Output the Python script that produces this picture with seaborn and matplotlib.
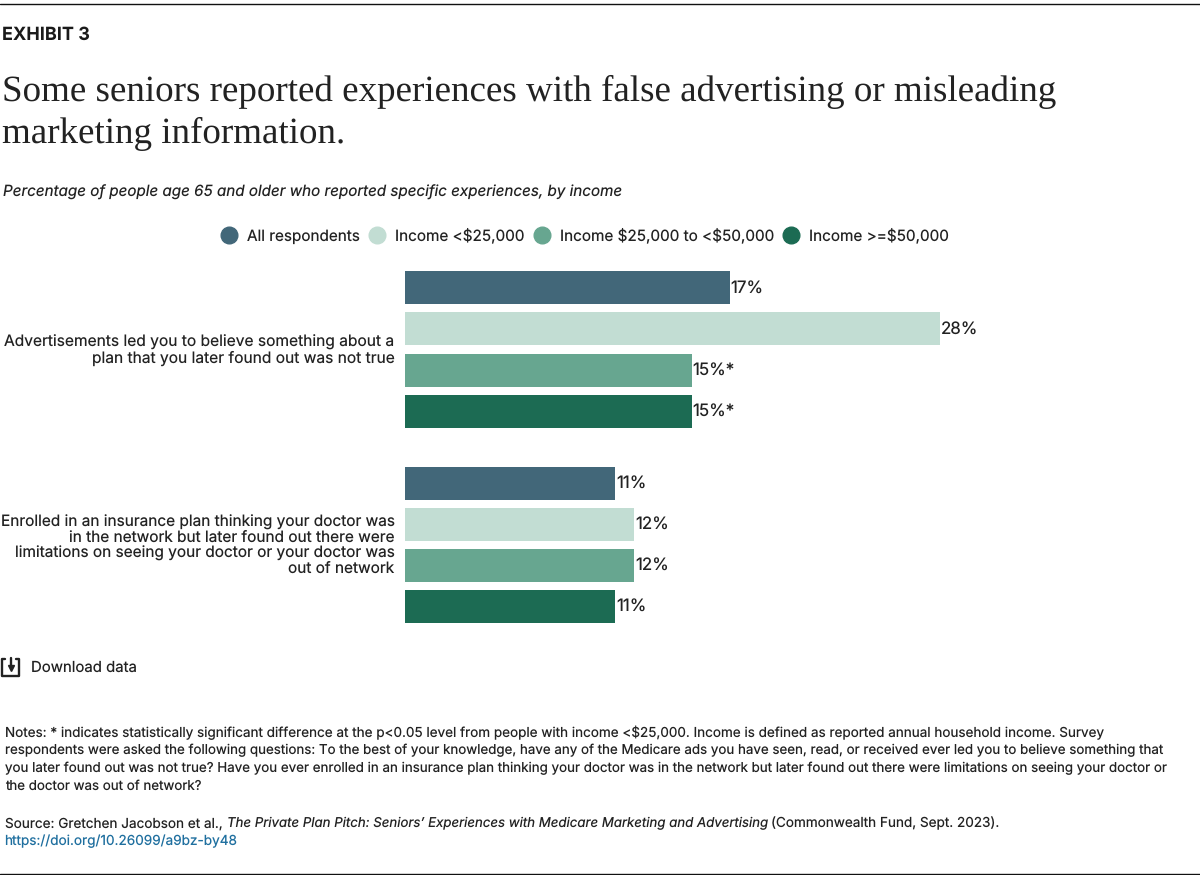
import matplotlib
matplotlib.use("Agg")
import matplotlib.pyplot as plt
from matplotlib.lines import Line2D
from matplotlib.transforms import ScaledTranslation
import pandas as pd
import seaborn as sns

W, H = 1200, 875

categories = [
    "Advertisements led you to believe something about a\nplan that you later found out was not true",
    "Enrolled in an insurance plan thinking your doctor was\nin the network but later found out there were\nlimitations on seeing your doctor or your doctor was\nout of network",
]
groups = ["All respondents", "Income <$25,000", "Income $25,000 to <$50,000", "Income >=$50,000"]
group_colors = ["#426779", "#c2ddd3", "#67a690", "#1c6b53"]
ad_values = [17, 28, 15, 15]
doctor_values = [11, 12, 12, 11]
ad_labels = ["17%", "28%", "15%*", "15%*"]
doctor_labels = ["11%", "12%", "12%", "11%"]

title_lines = [
    "Some seniors reported experiences with false advertising or misleading",
    "marketing information.",
]
subtitle = "Percentage of people age 65 and older who reported specific experiences, by income"
notes = [
    "Notes: * indicates statistically significant difference at the p<0.05 level from people with income <$25,000. Income is defined as reported annual household income. Survey",
    "respondents were asked the following questions: To the best of your knowledge, have any of the Medicare ads you have seen, read, or received ever led you to believe something that",
    "you later found out was not true? Have you ever enrolled in an insurance plan thinking your doctor was in the network but later found out there were limitations on seeing your doctor or",
    "the doctor was out of network?",
]
note_sizes = [9.73, 9.62, 9.62, 9.6]

sns.set_theme(style="white")
plt.rcParams["font.family"] = ["Inter", "DejaVu Sans"]
plt.rcParams["text.parse_math"] = False
plt.rcParams["text.hinting"] = "no_hinting"
plt.rcParams["text.hinting_factor"] = 1
INK = "#222222"

df = pd.DataFrame({
    "category": [categories[0]] * 4 + [categories[1]] * 4,
    "group": groups * 2,
    "value": ad_values + doctor_values,
})

fig = plt.figure(figsize=(W / 100, H / 100), dpi=100)


def fx(px):
    return px / W


def fy(px):
    return 1 - px / H


def put(px, py, s, **kw):
    kw.setdefault("color", INK)
    kw.setdefault("va", "center")
    return fig.text(fx(px), fy(py), s, **kw)


# axes placed in pixels so the bars land where they do in the exhibit
left, right, top, bottom = 405, 1005, 250, 640
ax = fig.add_axes([fx(left), fy(bottom), (right - left) / W, (bottom - top) / H])
sns.barplot(data=df, y="category", x="value", hue="group", hue_order=groups,
            palette=group_colors, width=0.84, gap=0.195, saturation=1,
            linewidth=0, legend=False, ax=ax)
ax.set_xlim(0, (right - left) / 19.107)
ax.set_ylim((bottom - 349.5) / 195.5, (top - 349.5) / 195.5)
ax.set_xlabel("")
ax.set_ylabel("")
ax.set_xticks([])
sns.despine(ax=ax, left=True, bottom=True)
ax.tick_params(axis="y", length=0, pad=7.5)
for lab, size in zip(ax.get_yticklabels(), [11.2, 11.08]):
    lab.set_fontsize(size)
    lab.set_color(INK)
    lab.set_linespacing(1.05)
    lab.set_transform(lab.get_transform() + ScaledTranslation(0, 1.5 / 100, fig.dpi_scale_trans))

for container, labs in zip(ax.containers, zip(ad_labels, doctor_labels)):
    ax.bar_label(container, labels=list(labs), padding=0.5, fontsize=12.2, color=INK)

# page furniture
fig.add_artist(Line2D([0, 1], [fy(3.5), fy(3.5)], color="#111111", lw=1))
fig.add_artist(Line2D([0, 1], [fy(873.5), fy(873.5)], color="#111111", lw=1))
put(2, 35, "EXHIBIT 3", fontsize=13, fontweight="bold", color="#1a1a1a")
put(2, 91.5, title_lines[0], fontsize=26.8, family="Liberation Serif")
put(2, 133.5, title_lines[1], fontsize=26.8, family="Liberation Serif")
put(3, 192, subtitle, fontsize=10.95, style="italic")

# legend
handles = [Line2D([], [], marker="o", ls="", ms=12, mfc=c, mec=c) for c in group_colors]
fig.legend(handles, groups, loc="center", bbox_to_anchor=(fx(581.5), fy(236)), ncol=4,
           frameon=False, fontsize=11, labelcolor=INK, handletextpad=0.2,
           columnspacing=0.1, borderpad=0, borderaxespad=0)

# download icon
for xs, ys in [([5, 2, 2, 19, 19, 16], [659, 659, 676, 676, 659, 659]),
               ([10.5, 10.5], [658, 667])]:
    fig.add_artist(Line2D([fx(x) for x in xs], [fy(y) for y in ys], color=INK, lw=1.7))
fig.add_artist(Line2D([fx(10.5)], [fy(668)], marker="v", ms=4.5, color=INK, ls=""))
put(31, 667.5, "Download data", fontsize=10.75)

# notes and source
for i, line in enumerate(notes):
    put(5, 732.3 + i * 18.1, line, fontsize=note_sizes[i])

renderer = fig.canvas.get_renderer()
x = 5
for s, style, size, gap in [("Source: Gretchen Jacobson et al.,", "normal", 9.75, 4),
                            ("The Private Plan Pitch: Seniors\u2019 Experiences with Medicare Marketing and Advertising", "italic", 9.56, 3),
                            ("(Commonwealth Fund, Sept. 2023).", "normal", 9.75, 0)]:
    t = put(x, 823.5, s, fontsize=size, style=style)
    x += t.get_window_extent(renderer).width + gap
put(4.5, 841.5, "https://doi.org/10.26099/a9bz-by48", fontsize=9.8, color="#1f6f9f")

fig.savefig("out.png", dpi=100, facecolor="white")
